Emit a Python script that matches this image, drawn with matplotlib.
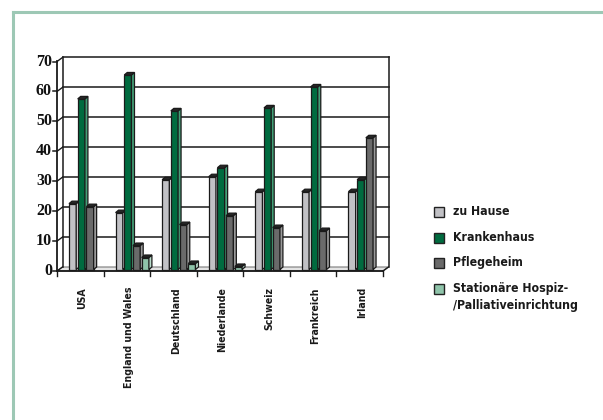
import matplotlib
matplotlib.use("Agg")
import matplotlib.pyplot as plt
import matplotlib.transforms as mtransforms
from matplotlib import font_manager as fm
from matplotlib.patches import Polygon, Rectangle
from matplotlib.lines import Line2D
import numpy as np

# ---------------- data ----------------
countries = ["USA", "England und Wales", "Deutschland", "Niederlande",
             "Schweiz", "Frankreich", "Irland"]
series_names = ["zu Hause", "Krankenhaus", "Pflegeheim",
                "Stationäre Hospiz-\n/Palliativeinrichtung"]
zu_hause = [22, 19, 30, 31, 26, 26, 26]
krankenhaus = [57, 65, 53, 34, 54, 61, 30]
pflegeheim = [21, 8, 15, 18, 14, 13, 44]
hospiz = [0, 4, 2, 1, 0, 0, 0]
yticks = [0, 10, 20, 30, 40, 50, 60, 70]

front_cols = ["#c1c1c5", "#006b3f", "#6a6a6a", "#8fc4aa"]
side_cols = ["#dedee0", "#43a077", "#9a9a9a", "#b9dccb"]
top_col = "#262626"

# pick a narrow bold sans if one is installed
cands = [f for f in fm.fontManager.ttflist
         if ("Narrow" in f.name or "Condensed" in f.name
             or f.stretch in ("condensed", "semi-condensed", 400))]
narrow = None
for f in cands:
    if f.weight in ("bold", 700) or "Bold" in f.fname:
        narrow = fm.FontProperties(fname=f.fname)
        break
if narrow is None:
    narrow = fm.FontProperties(family="DejaVu Sans", stretch="condensed",
                               weight="bold")

W, H = 603, 420
fig = plt.figure(figsize=(W / 100, H / 100), dpi=100)
fig.patch.set_facecolor("white")

def fx(px):
    return px / W

def fy(py):
    return 1 - py / H

# border (top + left)
border_col = "#9dc8b5"
fig.add_artist(Line2D([fx(13), 1.0], [fy(12), fy(12)], color=border_col, lw=2.2,
                      transform=fig.transFigure))
fig.add_artist(Line2D([fx(13), fx(13)], [fy(12), 0.0], color=border_col, lw=2.2,
                      transform=fig.transFigure))

# front plane of the chart
FL, FR, FB, FT = 57, 383, 271, 61.5
ax = fig.add_axes([fx(FL), fy(FB), (FR - FL) / W, (FB - FT) / H])
ax.set_xlim(0, len(countries))
ax.set_ylim(0, 70)
ax.axis("off")

DX, DY = 5.5, 4.0
ident = mtransforms.IdentityTransform()
back = ax.transData + mtransforms.Affine2D().translate(DX, DY)
n = len(countries)
line_col = "#1a1a1a"

def P(x, y):
    return np.array(ax.transData.transform((x, y)))

# floor
f0, f1 = P(0, 0), P(n, 0)
ax.add_patch(Polygon([f0, f1, f1 + (DX, DY), f0 + (DX, DY)], closed=True,
                     transform=ident, fc="#e4e4e4", ec="#7a7a7a", lw=0.8,
                     zorder=1, clip_on=False))
ax.add_line(Line2D([f0[0], f1[0]], [f0[1], f1[1]], transform=ident,
                   color=line_col, lw=1.3, zorder=2, clip_on=False))

# back wall gridlines and frame
for t in yticks[1:]:
    ax.add_line(Line2D([0, n], [t, t], transform=back, color=line_col, lw=1.1,
                       zorder=1, clip_on=False))
ax.add_line(Line2D([n, n], [0, 70], transform=back, color=line_col, lw=1.1,
                   zorder=1, clip_on=False))
ax.add_line(Line2D([0, 0], [0, 70], transform=back, color=line_col, lw=1.1,
                   zorder=1, clip_on=False))

# left side wall
ax.add_line(Line2D([0, 0], [0, 70], transform=ax.transData, color=line_col,
                   lw=1.3, zorder=2, clip_on=False))
for t in yticks:
    p = P(0, t)
    ax.add_line(Line2D([p[0], p[0] + DX], [p[1], p[1] + DY], transform=ident,
                       color=line_col, lw=1.0, zorder=2, clip_on=False))
    ax.add_line(Line2D([p[0] - 4, p[0]], [p[1], p[1]], transform=ident,
                       color=line_col, lw=1.1, zorder=2, clip_on=False))
    ax.text(0, t, str(t), transform=ax.transData +
            mtransforms.Affine2D().translate(-5, 0),
            ha="right", va="center", fontsize=11.5, fontweight="bold",
            family="Liberation Serif", color="#111111")

# right floor corner
p = P(n, 0)
ax.add_line(Line2D([p[0], p[0] + DX], [p[1], p[1] + DY], transform=ident,
                   color=line_col, lw=1.0, zorder=2, clip_on=False))

# x ticks
for i in range(n + 1):
    p = P(i, 0)
    ax.add_line(Line2D([p[0], p[0]], [p[1], p[1] - 5], transform=ident,
                       color=line_col, lw=1.0, zorder=2, clip_on=False))

# x labels
for i, c in enumerate(countries):
    ax.text(i + 0.55, 0, c, transform=ax.transData +
            mtransforms.Affine2D().translate(0, -16),
            rotation=90, ha="center", va="top", fontproperties=narrow,
            fontsize=7.6, color="#1a1a1a")

# bars
series = [zu_hause, krankenhaus, pflegeheim, hospiz]
offs = [0.236 + k * 0.187 for k in range(4)]
bw = 0.155
BDX, BDY = 3.0, 2.5
shift = mtransforms.Affine2D().translate(1.0, 1.5)
for k, vals in enumerate(series):
    bars = ax.bar(np.arange(n) + offs[k], vals, width=bw, align="edge",
                  color=front_cols[k], edgecolor=line_col, linewidth=0.9,
                  zorder=3 + k)
    for b in bars:
        if b.get_height() <= 0:
            b.set_visible(False)
            continue
        b.set_transform(ax.transData + shift)
        b.set_clip_on(False)
        x0, y0 = b.get_x(), b.get_y()
        x1, y1 = x0 + b.get_width(), y0 + b.get_height()
        s = np.array([1.0, 1.5])
        br, tr, tl = P(x1, y0) + s, P(x1, y1) + s, P(x0, y1) + s
        d = np.array([BDX, BDY])
        ax.add_patch(Polygon([br, tr, tr + d, br + d], closed=True,
                             transform=ident, fc=side_cols[k], ec=line_col,
                             lw=0.9, zorder=3 + k, clip_on=False))
        ax.add_patch(Polygon([tl, tr, tr + d, tl + d], closed=True,
                             transform=ident, fc=top_col, ec=line_col,
                             lw=0.9, zorder=3 + k, clip_on=False))

# legend
leg_y = [212, 238, 263, 289]
for k, name in enumerate(series_names):
    fig.add_artist(Rectangle((fx(434), fy(leg_y[k] + 5)), 10 / W, 10 / H,
                             transform=fig.transFigure, fc=front_cols[k],
                             ec="#222222", lw=1.0))
    fig.text(fx(453), fy(leg_y[k] - 7), name, ha="left", va="top",
             fontproperties=narrow, fontsize=8.8,
             color="#1a1a1a", linespacing=1.35)

fig.savefig("out.png", dpi=100, facecolor="white")
